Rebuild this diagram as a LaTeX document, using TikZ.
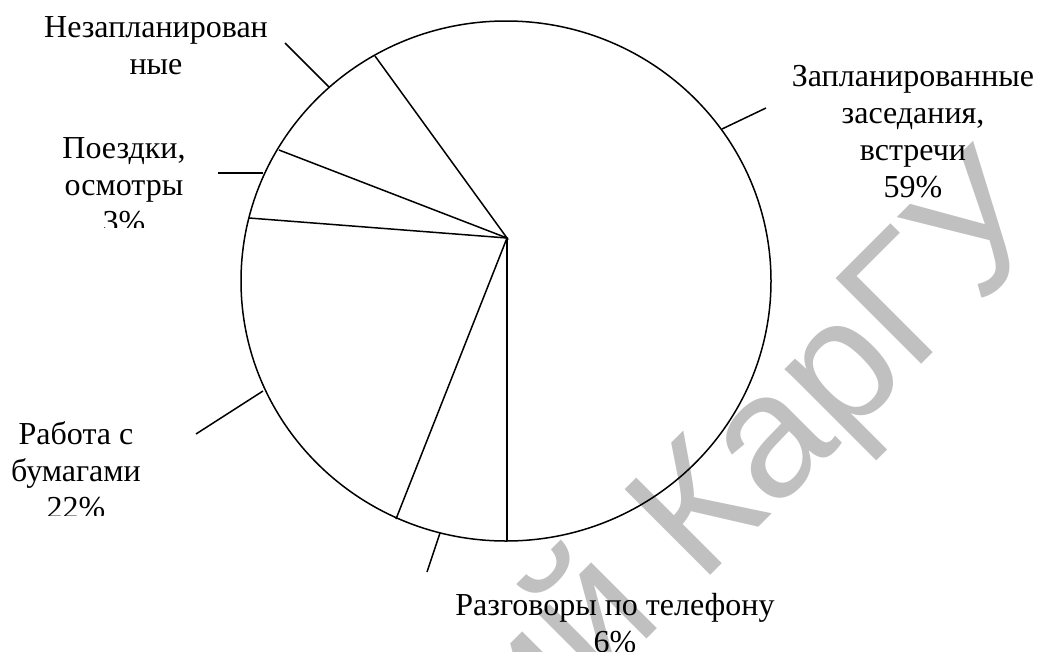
\documentclass[tikz,border=0pt]{standalone}
\usepackage{fontspec}
\usetikzlibrary{shapes.geometric}
\setmainfont{Liberation Serif}
\newfontfamily\wmfont{Liberation Sans}
\definecolor{wmgray}{RGB}{192,192,192}

\tikzset{
  piece/.style={line width=1.5pt, black},
  leader/.style={line width=1.5pt, black},
  lbl/.style={font=\fontsize{32}{37}\selectfont, inner sep=0pt, anchor=base},
  wm/.style={font=\wmfont\fontsize{176}{176}\selectfont, text=wmgray,
             inner sep=0pt, anchor=base west, rotate=45}
}

\begin{document}
\begin{tikzpicture}[x=1pt, y=-1pt]
\useasboundingbox (0,0) rectangle (1039,651);

\begin{scope}
  \clip (0,0) rectangle (1039,651);

  % background stamp
  \node[wm] (stamp) at (527,759) {ий КарГУ};

  % pie: outline, centre and boundaries of the sectors
  \node[draw, piece, ellipse, minimum width=530pt, minimum height=520pt,
        inner sep=0pt] (pie) at (506,281) {};
  \coordinate (o)  at (507,238);
  \coordinate (sa) at (375,56);
  \coordinate (sb) at (279,150);
  \coordinate (sc) at (249,218);
  \coordinate (sd) at (396,519);
  \coordinate (se) at (507,541);
  \draw[piece] (sa) -- (o) -- (sb);
  \draw[piece] (sc) -- (o) -- (sd);
  \draw[piece] (o) -- (se);

  % leader lines from the rim towards the labels
  \coordinate (pa) at (329,87);   \coordinate (qa) at (285,43);
  \coordinate (pb) at (722,129);  \coordinate (qb) at (766,108);
  \coordinate (pc) at (263,173);  \coordinate (qc) at (218,173);
  \coordinate (pd) at (263,391);  \coordinate (qd) at (196,434);
  \coordinate (pe) at (440,533);  \coordinate (qe) at (427,572);
  \draw[leader] (pa) -- (qa);
  \draw[leader] (pb) -- (qb);
  \draw[leader] (pc) -- (qc);
  \draw[leader] (pd) -- (qd);
  \draw[leader] (pe) -- (qe);

  % labels
  \node[lbl] (unplanned) at (156,37)
    {\begin{tabular}[t]{@{}c@{}}Незапланирован\\ные\end{tabular}};
  \node[lbl] (planned) at (913,86)
    {\begin{tabular}[t]{@{}c@{}}Запланированные\\заседания,\\встречи\\59\%\end{tabular}};
  \begin{scope}
    \clip (0,100) rectangle (215,227);
    \node[lbl] (trips) at (124,158)
      {\begin{tabular}[t]{@{}c@{}}Поездки,\\осмотры\\3\%\end{tabular}};
  \end{scope}
  \begin{scope}
    \clip (0,390) rectangle (190,515);
    \node[lbl] (papers) at (76,444)
      {\begin{tabular}[t]{@{}c@{}}Работа с\\бумагами\\22\%\end{tabular}};
  \end{scope}
  \node[lbl] (phone) at (615,615)
    {\begin{tabular}[t]{@{}c@{}}Разговоры по телефону\\6\%\end{tabular}};
\end{scope}
\end{tikzpicture}
\end{document}
